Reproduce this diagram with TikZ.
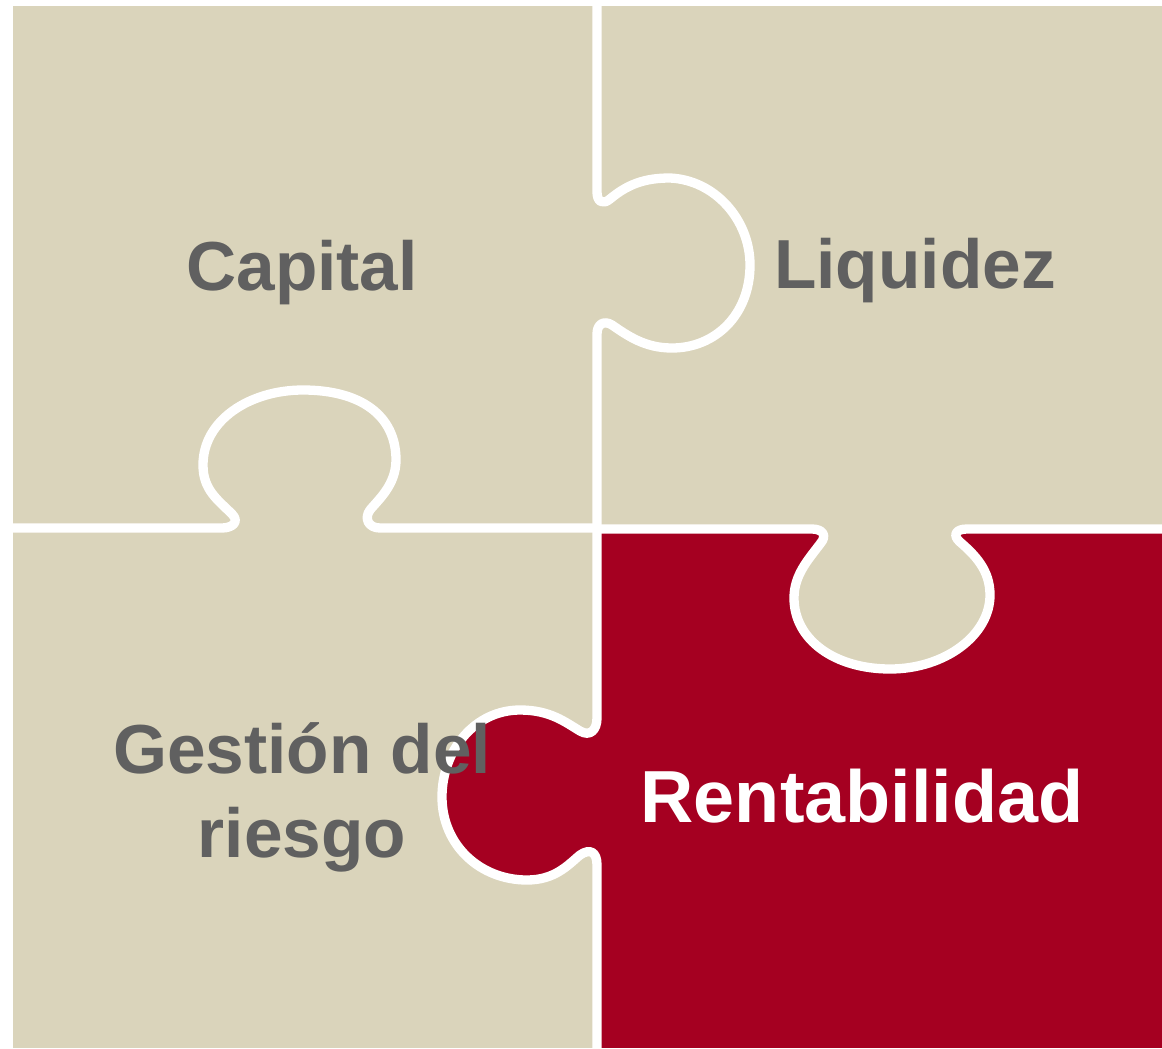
\documentclass[tikz,border=0pt]{standalone}
\usepackage{fontspec}
\setmainfont{Liberation Sans}
\usepackage{color}
\definecolor{sand}{HTML}{DAD4BB}
\definecolor{wine}{HTML}{A50021}
\definecolor{slate}{HTML}{606060}

\begin{document}
\begin{tikzpicture}
  [x=0.02cm,y=-0.02cm]
      \tikzstyle{cut_style} = [draw=white, line width=5.3pt, line cap=round, line join=round]
      \tikzstyle{label_style} = [text=slate, font=\bfseries\fontsize{39.5}{47.8}\selectfont, anchor=base, inner sep=0pt]
  \useasboundingbox (0,0) rectangle (1162,1048);
  \fill[white] (0,0) rectangle (1162,1048);
  \fill[sand] (13,6) rectangle (1162,1048);
  % red piece with its knobs
  \fill[wine] (597,529) rectangle (1162,1048);
  \fill[sand] (812,529) .. controls (822,529) and (828,535) .. (820,544)
      .. controls (808,560) and (794,575) .. (794,598)
      .. controls (794,640) and (835,669) .. (890,669)
      .. controls (945,669) and (990,635) .. (990,595)
      .. controls (990,570) and (975,555) .. (960,542)
      .. controls (952,535) and (956,529) .. (967,529) -- cycle;
  \fill[wine] (597,718) .. controls (597,730) and (590,737) .. (580,731)
      .. controls (565,722) and (550,710) .. (520,710)
      .. controls (475,710) and (442,750) .. (442,797)
      .. controls (442,845) and (480,880) .. (527,880)
      .. controls (555,880) and (568,865) .. (580,855)
      .. controls (590,848) and (597,852) .. (597,865) -- cycle;
  % cuts
  \draw[cut_style] (597,6) -- (597,192) .. controls (597,202) and (603,205) .. (610,199)
      .. controls (628,184) and (645,178) .. (670,178)
      .. controls (715,180) and (750,220) .. (750,265)
      .. controls (750,315) and (715,348) .. (672,348)
      .. controls (645,348) and (628,336) .. (612,325)
      .. controls (604,320) and (597,324) .. (597,334) -- (597,529);
  \draw[cut_style] (13,528) -- (222,528) .. controls (232,528) and (240,522) .. (232,514)
      .. controls (218,500) and (203,490) .. (203,465)
      .. controls (203,420) and (250,390) .. (303,390)
      .. controls (360,390) and (396,415) .. (396,460)
      .. controls (396,485) and (378,500) .. (370,510)
      .. controls (364,518) and (368,528) .. (380,528) -- (597,528);
  \draw[cut_style] (597,529) -- (812,529) .. controls (822,529) and (828,535) .. (820,544)
      .. controls (808,560) and (794,575) .. (794,598)
      .. controls (794,640) and (835,669) .. (890,669)
      .. controls (945,669) and (990,635) .. (990,595)
      .. controls (990,570) and (975,555) .. (960,542)
      .. controls (952,535) and (956,529) .. (967,529) -- (1162,529);
  \draw[cut_style] (597,529) -- (597,718) .. controls (597,730) and (590,737) .. (580,731)
      .. controls (565,722) and (550,710) .. (520,710)
      .. controls (475,710) and (442,750) .. (442,797)
      .. controls (442,845) and (480,880) .. (527,880)
      .. controls (555,880) and (568,865) .. (580,855)
      .. controls (590,848) and (597,852) .. (597,865) -- (597,1048);
  \node[label_style] (capital) at (302,290) {Capital};
  \node[label_style] (liquidez) at (915,288) {Liquidez};
  \node[label_style, align=center] (riesgo) at (302,857) {Gestión del\\riesgo};
  \node[label_style, text=white, font=\bfseries\fontsize{42}{50}\selectfont] (rentabilidad) at (862,822) {Rentabilidad};
\end{tikzpicture}
\end{document}
